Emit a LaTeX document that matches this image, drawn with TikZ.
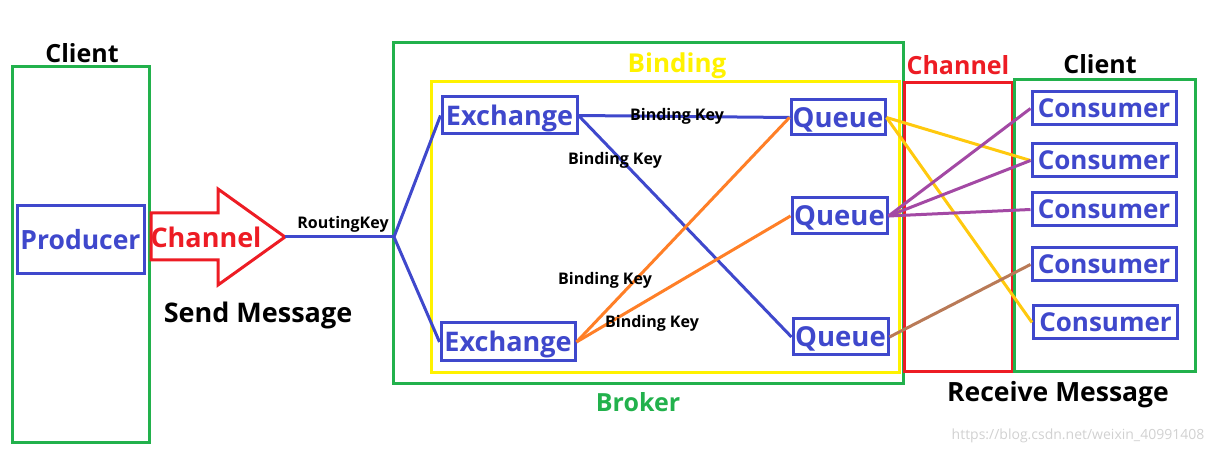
\documentclass[tikz,border=0pt]{standalone}
\usepackage{fontspec}
\setmainfont{Open Sans}
\definecolor{pblue}{RGB}{63,72,204}
\definecolor{pgreen}{RGB}{34,177,76}
\definecolor{pred}{RGB}{237,28,36}
\definecolor{pyellow}{RGB}{255,242,0}
\definecolor{porange}{RGB}{255,127,39}
\definecolor{pgold}{RGB}{255,201,14}
\definecolor{ppurple}{RGB}{163,73,164}
\definecolor{pbrown}{RGB}{185,122,87}
\begin{document}
\begin{tikzpicture}[x=1pt,y=-1pt,
  fsz/.style={font=\bfseries\fontsize{#1}{#1}\selectfont},
  frame/.style={draw, line width=3pt, inner sep=0pt, anchor=center},
  elem/.style={frame, draw=pblue, text=pblue, fill=white, text depth=0pt},
  conn/.style={line width=3pt},
  lbl/.style={inner sep=0pt, text depth=0pt},
  small/.style={fsz=16, inner sep=0pt, text height=11.4pt, text depth=0pt}]
\useasboundingbox (0,0) rectangle (1224,454);
% big frames
\node[frame, draw=pgreen, minimum width=137pt, minimum height=375pt] (clientL) at (80.5,254.5) {};
\node[frame, draw=pgreen, minimum width=510pt, minimum height=340pt] (broker) at (648,213) {};
\node[frame, draw=pyellow, minimum width=468pt, minimum height=291pt] (binding) at (665,227.5) {};
\node[frame, draw=pred, minimum width=108pt, minimum height=289pt] (channelR) at (958,227.5) {};
\node[frame, draw=pgreen, minimum width=181pt, minimum height=292pt] (clientR) at (1104.5,226) {};
% titles
\node[lbl, fsz=25, text height=17.9pt] (tClientL) at (82,54) {Client};
\node[lbl, fsz=26, text height=18.6pt, text=pyellow] (tBinding) at (677,63) {Binding};
\node[lbl, fsz=25, text height=17.9pt, text=pgreen] (tBroker) at (638,403) {Broker};
\node[lbl, fsz=25, text height=17.9pt, text=pred] (tChannelR) at (958,66) {Channel};
\node[lbl, fsz=25, text height=17.9pt] (tClientR) at (1100,65) {Client};
\node[lbl, fsz=27, text height=19.3pt] (tSend) at (258,313) {Send Message};
\node[lbl, fsz=26.5, text height=18.9pt] (tRecv) at (1058,392) {Receive Message};
% producer and channel arrow
\node[elem, fsz=26.5, text height=18.9pt, minimum width=127pt, minimum height=68pt] (prod) at (80.5,240) {Producer};
\draw[pred, line width=3pt, line join=miter] (151,213) -- (218,213) -- (218,189) -- (285,237) -- (218,285) -- (218,260) -- (151,260) -- cycle;
\coordinate (tip) at (285,237);
\node[lbl, fsz=27, text height=19.3pt, text=pred] (tChan) at (206,238) {Channel};
% exchanges, queues, consumers
\node[elem, fsz=27, text height=19.3pt, minimum width=135pt, minimum height=37pt] (ex1) at (509.5,115.5) {Exchange};
\node[elem, fsz=27, text height=19.3pt, minimum width=134pt, minimum height=38pt] (ex2) at (508,342) {Exchange};
\begin{scope}[every node/.append style={fsz=27.5, text height=19.6pt}]
\node[elem, minimum width=94pt, minimum height=35pt] (q1) at (838,117.5) {Queue};
\node[elem, minimum width=95pt, minimum height=36pt] (q2) at (839.5,216) {Queue};
\node[elem, minimum width=95pt, minimum height=36pt] (q3) at (840.5,337) {Queue};
\end{scope}
\begin{scope}[every node/.append style={minimum width=144pt, minimum height=33pt, fsz=26, text height=18.6pt}]
\node[elem] (c1) at (1104,108.5) {Consumer};
\node[elem] (c2) at (1104,160.5) {Consumer};
\node[elem] (c3) at (1104,209.5) {Consumer};
\node[elem] (c4) at (1104,264.5) {Consumer};
\node[elem] (c5) at (1105.5,322.5) {Consumer};
\end{scope}
% routing
\coordinate (split) at (394,237);
\draw[conn, pblue] (tip) -- (split);
\draw[conn, pblue] (split) -- (ex1.west);
\draw[conn, pblue] (split) -- (ex2.west);
\node[small] (rk) at (343,223) {RoutingKey};
% bindings
\draw[conn, pblue] (ex1.east) -- (q1.west);
\draw[conn, pblue] (ex1.east) -- (q3.west);
\draw[conn, porange] (ex2.east) -- (q1.west);
\draw[conn, porange] (ex2.east) -- (q2.west);
\node[small] (bk1) at (677,115) {Binding Key};
\node[small] (bk2) at (615,159) {Binding Key};
\node[small] (bk3) at (605,279) {Binding Key};
\node[small] (bk4) at (652,322) {Binding Key};
% deliveries
\draw[conn, pgold] (q1.east) -- (c2.west);
\draw[conn, pgold] (q1.east) -- (c5.west);
\draw[conn, ppurple] (q2.east) -- (c1.west);
\draw[conn, ppurple] (q2.east) -- (c2.west);
\draw[conn, ppurple] (q2.east) -- (c3.west);
\draw[conn, pbrown] (q3.east) -- (c4.west);
% watermark
\node[font=\fontsize{14}{16}\selectfont, text=black!18, inner sep=0pt] (wm) at (1078,436) {https://blog.csdn.net/weixin\_40991408};
\end{tikzpicture}
\end{document}
